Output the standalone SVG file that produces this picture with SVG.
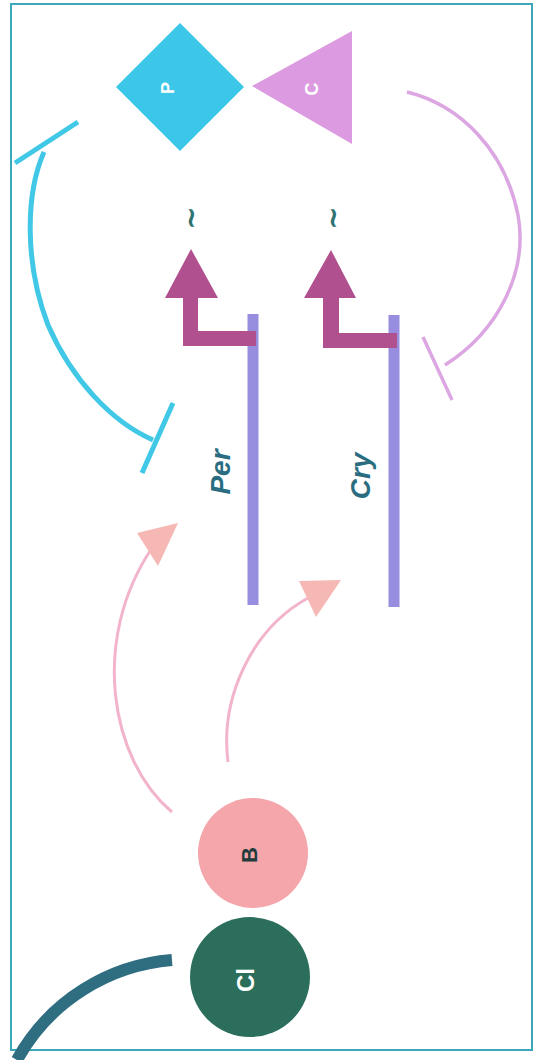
<svg xmlns="http://www.w3.org/2000/svg" width="538" height="1060" viewBox="0 0 538 1060">
<style>
.lbl{font-family:"Liberation Sans",Arial,sans-serif;font-weight:bold;text-anchor:middle;dominant-baseline:central}
.gene{font-family:"Liberation Sans",Arial,sans-serif;font-weight:bold;font-style:italic;font-size:28px;fill:#2a6d80;text-anchor:middle;dominant-baseline:central}
.tilde{font-family:"DejaVu Sans",sans-serif;font-weight:bold;font-size:28px;fill:#2e7272;text-anchor:middle;dominant-baseline:central}
.gl{stroke:#988ee0;stroke-width:11;fill:none}
.prom{fill:#b0508f}
.act{stroke:#f2b4cc;stroke-width:3;fill:none}
.acth{fill:#f6b8b4}
</style>
<rect x="11" y="4" width="521" height="1046" fill="#ffffff" stroke="#3aa8b8" stroke-width="2"/>
<g id="connectors">
  <path d="M44,152 C 25,195 25,265 48,325 C 72,380 112,422 153,440" stroke="#40c8e6" stroke-width="5" fill="none"/>
  <path d="M15,163 L78,122" stroke="#40c8e6" stroke-width="5" fill="none"/>
  <path d="M173,403 L142,473" stroke="#40c8e6" stroke-width="5"/>
  <path d="M407,92 C 460,105 505,150 518,215 C 528,270 500,330 445,365" stroke="#dca6e2" stroke-width="3.5" fill="none"/>
  <path d="M423,337 L452,400" stroke="#dca6e2" stroke-width="3.5"/>
  <path d="M172,812 C 110,760 90,640 152,548" class="act"/>
  <polygon points="178,523 137,533 158,566" class="acth"/>
  <path d="M228,762 C 220,700 250,630 308,598" class="act"/>
  <polygon points="341,580 299,581 316,617" class="acth"/>
  <path d="M172,960 C 110,965 50,1000 17,1060" stroke="#2f6d80" stroke-width="12" fill="none"/>
</g>
<g id="P">
  <polygon points="180,23 244,87 180,151 116,87" fill="#3cc6e8"/>
  <text class="lbl" transform="translate(168,88) rotate(-90)" font-size="18" fill="#ffffff">P</text>
</g>
<g id="C">
  <polygon points="252,86 352,31 352,144" fill="#dc9ae0"/>
  <text class="lbl" transform="translate(312,89) rotate(-90)" font-size="18" fill="#ffffff">C</text>
</g>
<g id="Per">
  <line x1="253" y1="314" x2="253" y2="605" class="gl"/>
  <path class="prom" d="M256,331 L256,346 L183,346 L183,298 L165,298 L191,249 L218,298 L198,298 L198,331 Z"/>
  <text class="tilde" transform="translate(190,218) rotate(-90)">~</text>
  <text class="gene" transform="translate(220,472) rotate(-90)">Per</text>
</g>
<g id="Cry">
  <line x1="394" y1="315" x2="394" y2="607" class="gl"/>
  <path class="prom" d="M397,333 L397,348 L323,348 L323,298 L304,298 L331,250 L356,298 L339,298 L339,333 Z"/>
  <text class="tilde" transform="translate(332,218) rotate(-90)">~</text>
  <text class="gene" transform="translate(360,476) rotate(-90)">Cry</text>
</g>
<g id="B">
  <circle cx="253" cy="853" r="55" fill="#f4a6aa"/>
  <text class="lbl" transform="translate(249,855) rotate(-90)" font-size="22" fill="#1f3b3b">B</text>
</g>
<g id="Cl">
  <circle cx="250" cy="977" r="60" fill="#2b6e5c"/>
  <text class="lbl" transform="translate(245,980) rotate(-90)" font-size="24" fill="#ffffff">Cl</text>
</g>
</svg>
